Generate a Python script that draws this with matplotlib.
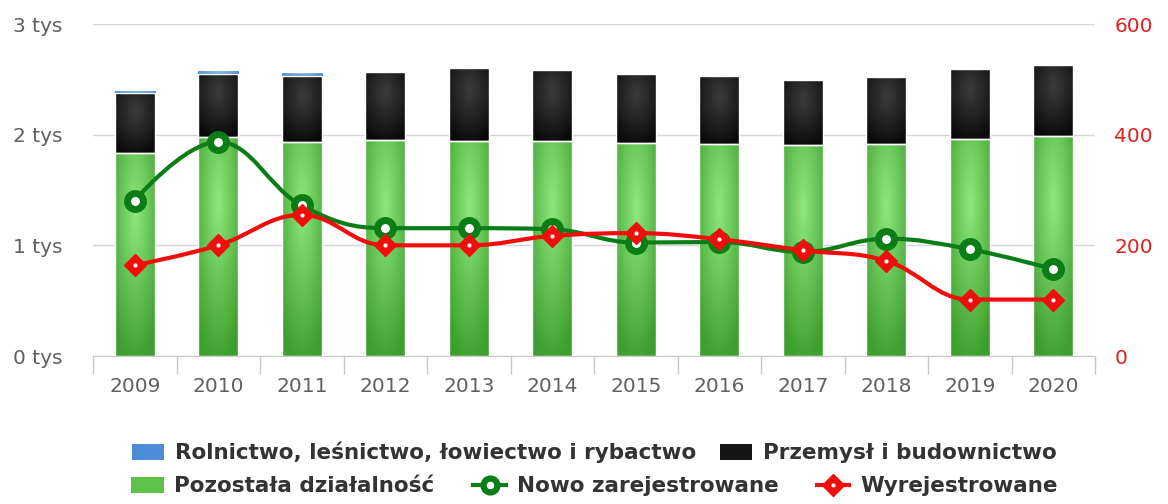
import numpy as np
import matplotlib
matplotlib.use("Agg")
import matplotlib.pyplot as plt
from matplotlib.path import Path
from matplotlib.patches import PathPatch, Patch
from matplotlib.lines import Line2D
from matplotlib.colors import to_rgb

# data
years = ["2009", "2010", "2011", "2012", "2013", "2014",
         "2015", "2016", "2017", "2018", "2019", "2020"]
rolnictwo = [23, 27, 30, 0, 0, 0, 0, 0, 0, 0, 0, 0]
przemysl = [542, 572, 594, 611, 657, 641, 623, 614, 584, 608, 638, 641]
pozostala = [1832, 1976, 1936, 1952, 1943, 1943, 1922, 1913, 1907, 1916, 1958, 1991]
nowo = [281, 387, 272, 231, 231, 229, 205, 206, 188, 212, 193, 157]
wyrej = [164, 200, 255, 200, 200, 217, 222, 211, 191, 172, 102, 102]

GREEN_L, GREEN_D = "#8fe87c", "#3d9f2e"
BLACK_L, BLACK_D = "#3c3c3c", "#0a0a0a"
BLUE_L, BLUE_D = "#9cc8ef", "#3f7fc6"
LINE_G = "#0a7d16"
LINE_R = "#f20d0d"
GRAY = "#606060"
RED_TXT = "#dd2020"


def paint(ax, bars, light, dark, cy=0.3, r=0.75):
    # radial gradient in the bar's bounding box, clipped to the bar
    lo, hi = np.array(to_rgb(light)), np.array(to_rgb(dark))
    v, u = np.mgrid[0:1:80j, 0:1:24j]
    t = np.clip(np.hypot(u - 0.5, v - cy) / r, 0, 1)[..., None]
    img = lo * (1 - t) + hi * t
    for b in bars:
        x0, y0 = b.get_xy()
        w, h = b.get_width(), b.get_height()
        if h <= 0:
            continue
        im = ax.imshow(img, extent=[x0, x0 + w, y0, y0 + h], origin="upper",
                       aspect="auto", interpolation="bilinear", zorder=2.1)
        im.set_clip_path(b)


def spline(xs, ys, smoothing=1.5):
    # highcharts-like spline through the points
    n = len(xs)
    lc = [(x, y) for x, y in zip(xs, ys)]
    rc = [(x, y) for x, y in zip(xs, ys)]
    d = smoothing + 1
    for i in range(1, n - 1):
        px, py = xs[i], ys[i]
        lx, ly = xs[i - 1], ys[i - 1]
        nx, ny = xs[i + 1], ys[i + 1]
        lcx, lcy = (smoothing * px + lx) / d, (smoothing * py + ly) / d
        rcx, rcy = (smoothing * px + nx) / d, (smoothing * py + ny) / d
        corr = (rcy - lcy) * (rcx - px) / (rcx - lcx) + py - rcy
        lcy += corr
        rcy += corr
        if lcy > ly and lcy > py:
            lcy = max(ly, py); rcy = 2 * py - lcy
        elif lcy < ly and lcy < py:
            lcy = min(ly, py); rcy = 2 * py - lcy
        if rcy > ny and rcy > py:
            rcy = max(ny, py); lcy = 2 * py - rcy
        elif rcy < ny and rcy < py:
            rcy = min(ny, py); lcy = 2 * py - rcy
        lc[i] = (lcx, lcy)
        rc[i] = (rcx, rcy)
    verts = [(xs[0], ys[0])]
    codes = [Path.MOVETO]
    for i in range(1, n):
        verts += [rc[i - 1], lc[i], (xs[i], ys[i])]
        codes += [Path.CURVE4] * 3
    return Path(verts, codes)


fig = plt.figure(figsize=(11.68, 5.04), dpi=100)
ax = fig.add_axes([93 / 1168, 1 - 356 / 504, 1002 / 1168, 332 / 504])
x = np.arange(len(years))
w = 0.48

b1 = ax.bar(x, pozostala, w, color=GREEN_D, linewidth=0, zorder=2)
bottom2 = np.array(pozostala)
b2 = ax.bar(x, przemysl, w, bottom=bottom2, color=BLACK_D, linewidth=0, zorder=2)
bottom3 = bottom2 + np.array(przemysl)
b3 = ax.bar(x, rolnictwo, w, bottom=bottom3, color=BLUE_D, linewidth=0, zorder=2)
paint(ax, b1, GREEN_L, GREEN_D)
paint(ax, b2, BLACK_L, BLACK_D)
paint(ax, b3, BLUE_L, BLUE_D)
# white borders
ax.bar(x, pozostala, w, facecolor="none", edgecolor="white", linewidth=1, zorder=2.2)
ax.bar(x, przemysl, w, bottom=bottom2, facecolor="none", edgecolor="white", linewidth=1, zorder=2.2)

ax.set_xlim(-0.5, len(years) - 0.5)
ax.set_ylim(0, 3000)
ax.set_yticks([0, 1000, 2000, 3000])
ax.set_yticklabels([f"{v // 1000} tys" for v in [0, 1000, 2000, 3000]])
ax.yaxis.grid(True, color="#d6d6d6", linewidth=1)
ax.set_axisbelow(True)
ax.tick_params(axis="y", length=0, pad=22, labelsize=14.5, labelcolor=GRAY)
ax.set_xticks(np.arange(-0.5, len(years)), minor=False)
ax.set_xticklabels([])
ax.set_xticks(x, minor=True)
ax.set_xticklabels(years, minor=True)
ax.tick_params(axis="x", which="major", length=13, width=1, color="#c8c8c8")
ax.tick_params(axis="x", which="minor", length=0, pad=15, labelsize=14.5, labelcolor=GRAY)
for s in ["top", "left", "right"]:
    ax.spines[s].set_visible(False)
ax.spines["bottom"].set_color("#c8c8c8")

ax2 = ax.twinx()
ax2.set_ylim(0, 600)
ax2.set_yticks([0, 200, 400, 600])
ax2.tick_params(axis="y", length=0, pad=14, labelsize=14.5, labelcolor=RED_TXT)
for s in ax2.spines.values():
    s.set_visible(False)

ax2.add_patch(PathPatch(spline(x, nowo), facecolor="none", edgecolor=LINE_G, lw=3, zorder=3))
ax2.plot(x, nowo, ls="none", marker="o", ms=11.5, mfc="white", mec=LINE_G, mew=5, zorder=4)
ax2.add_patch(PathPatch(spline(x, wyrej), facecolor="none", edgecolor=LINE_R, lw=3, zorder=5))
ax2.plot(x, wyrej, ls="none", marker="D", ms=11.5, mfc=LINE_R, mec=LINE_R, mew=1, zorder=6)
ax2.plot(x, wyrej, ls="none", marker="o", ms=3, mfc="white", mec="white", mew=0, zorder=7)

# legend, two rows
prop = {"weight": "bold", "size": 15.5}
h_rol = Patch(facecolor="#4a8dd6", edgecolor="none")
h_prz = Patch(facecolor="#161616", edgecolor="none")
h_poz = Patch(facecolor="#5cc24a", edgecolor="none")
h_now = Line2D([], [], color=LINE_G, lw=3, marker="o", ms=10, mfc="white", mec=LINE_G, mew=4.5)
h_wyr = (Line2D([], [], color=LINE_R, lw=3, marker="D", ms=11, mfc=LINE_R, mec=LINE_R),
         Line2D([], [], ls="none", marker="o", ms=3, mfc="white", mec="white", mew=0))
kw = dict(loc="center", frameon=False, borderpad=0, handlelength=1.5, handleheight=0.8,
          handletextpad=0.5, prop=prop, labelcolor="#333333")
leg1 = fig.legend([h_rol, h_prz], ["Rolnictwo, leśnictwo, łowiectwo i rybactwo", "Przemysł i budownictwo"],
                  ncol=2, columnspacing=1.1, bbox_to_anchor=(0.509, 1 - 452.5 / 504), **kw)
leg2 = fig.legend([h_poz, h_now, h_wyr], ["Pozostała działalność", "Nowo zarejestrowane", "Wyrejestrowane"],
                  ncol=3, columnspacing=1.8, bbox_to_anchor=(0.509, 1 - 486.5 / 504), **kw)

fig.savefig("out.png", dpi=100)
